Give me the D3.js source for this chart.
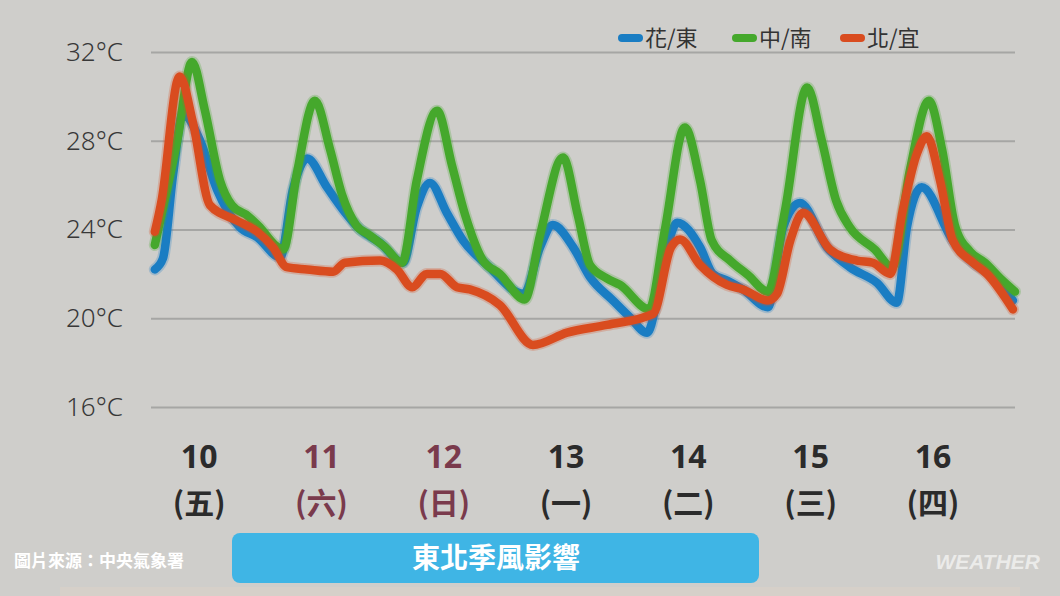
<!DOCTYPE html>
<html>
<head>
<meta charset="utf-8">
<script src="https://cdn.jsdelivr.net/npm/d3@7"></script>
<style>
  html, body { margin: 0; padding: 0; background: #cfcecb; }
  svg { display: block; font-family: "Noto Sans", "Noto Sans CJK TC", sans-serif; }
</style>
</head>
<body>
<div id="chart"></div>
<script>
// hours from day 10 00:00, temperature (°C)
var eastSeries = [[3.3,22.2],[4.9,22.7],[6.9,26.5],[8.8,29.2],[12.2,28.0],[15.5,25.8],[20.0,24.1],[23.4,23.65],[27.9,22.75],
  [30.4,25.8],[33.2,27.2],[37.1,25.9],[40.2,24.9],[43.6,24.0],[47.5,23.4],[52.0,22.5],
  [54.7,25.0],[57.3,26.1],[60.6,24.75],[63.8,23.5],[68.5,22.4],[75.7,21.1],
  [78.9,23.2],[81.4,24.2],[85.4,23.2],[88.7,21.85],[93.2,20.8],[96.5,20.05],[99.9,19.35],
  [103.8,23.2],[105.8,24.3],[110.3,23.2],[112.8,22.0],[115.6,21.7],[118.7,21.3],[123.6,20.5],
  [126.6,24.1],[129.9,25.2],[135.2,23.2],[139.7,22.3],[145.0,21.6],[148.9,20.7],
  [150.9,24.1],[153.8,25.9],[159.9,23.5],[163.9,22.5],[167.2,22.0],[171.7,20.8]];

var southSeries = [[3.3,23.3],[7.7,28.0],[10.6,31.55],[13.1,29.4],[16.1,26.2],[18.4,25.1],[21.6,24.6],[23.9,24.1],[26.9,23.3],[28.5,23.1],
  [31.2,26.55],[34.7,29.8],[37.7,27.6],[40.0,25.6],[42.8,24.2],[45.4,23.75],[48.5,23.2],[51.8,22.5],
  [54.7,26.2],[58.7,29.35],[61.6,26.9],[64.2,24.65],[67.7,22.6],[71.0,22.0],[75.9,20.85],
  [78.9,23.75],[83.4,27.25],[86.3,24.65],[88.7,22.4],[92.0,21.8],[94.6,21.5],[100.3,20.4],
  [103.4,24.0],[107.3,28.6],[110.3,26.2],[112.6,23.5],[116.2,22.6],[119.7,21.95],[123.6,21.2],
  [127.0,24.9],[131.3,30.4],[134.2,28.0],[137.0,25.3],[139.7,24.1],[144.6,23.1],[148.0,22.3],
  [151.5,26.7],[155.2,29.8],[157.8,27.6],[160.3,24.2],[163.3,23.0],[166.2,22.5],[169.2,21.8],[172.1,21.2]];

var northSeries = [[3.3,23.9],[4.7,25.4],[7.7,30.7],[8.2,30.9],[10.8,28.8],[14.1,25.1],[19.4,24.4],[23.4,23.9],[26.5,23.2],[29.2,22.3],
  [33.2,22.2],[38.3,22.1],[40.6,22.5],[47.5,22.6],[50.8,22.2],[53.8,21.4],[56.7,22.0],[59.3,22.0],[62.6,21.4],[65.1,21.3],
  [71.0,20.6],[77.5,18.8],[84.2,19.35],[92.0,19.7],[101.1,20.2],[104.6,23.2],[106.4,23.55],[110.3,22.4],[115.6,21.5],
  [118.7,21.3],[123.6,20.8],[125.4,21.1],[128.0,23.5],[130.5,24.75],[135.8,23.1],[141.1,22.6],[144.2,22.5],[147.6,22.0],
  [150.1,24.9],[152.9,27.45],[154.8,28.2],[157.4,26.2],[159.9,23.5],[163.9,22.5],[166.6,22.0],[171.7,20.4]];

var seriesNames = ["花/東", "中/南", "北/宜"];
var seriesColors = ["#1a7dc3", "#45a82c", "#d94c1f"];
var dayNumbers = ["10", "11", "12", "13", "14", "15", "16"];
var weekDays = ["(五)", "(六)", "(日)", "(一)", "(二)", "(三)", "(四)"];
var weekendDays = ["11", "12"];
var tempTicks = [16, 20, 24, 28, 32];

var width = 1060, height = 596;
var svg = d3.select("#chart").append("svg").attr("width", width).attr("height", height);

svg.append("rect").attr("width", width).attr("height", height).attr("fill", "#cfcecb");
svg.append("rect").attr("x", 60).attr("y", 587).attr("width", 960).attr("height", 9).attr("fill", "#d6d0c9");

var x = d3.scaleLinear().domain([0, 168]).range([138, 994.1]);
var y = d3.scaleLinear().domain([16, 32]).range([407, 52]);

// gridlines + y labels
var yAxis = svg.append("g")
  .attr("transform", "translate(151,0)")
  .call(d3.axisLeft(y).tickValues(tempTicks).tickFormat(function (d) { return d + "°C"; })
    .tickSize(-864).tickPadding(28));
yAxis.select(".domain").remove();
yAxis.selectAll(".tick line").attr("stroke", "#a6a6a4").attr("stroke-width", 2);
yAxis.selectAll(".tick text").attr("fill", "#383838").style("font-size", "26px")
  .style("font-weight", "300")
  .style("font-family", "'Noto Sans', sans-serif");

var line = d3.line()
  .x(function (d) { return x(d[0]); })
  .y(function (d) { return y(d[1]); })
  .curve(d3.curveMonotoneX);

var allSeries = [eastSeries, southSeries, northSeries];
allSeries.forEach(function (s, i) {
  svg.append("path").datum(s)
    .attr("d", line).attr("fill", "none")
    .attr("stroke", seriesColors[i]).attr("stroke-opacity", 0.25)
    .attr("stroke-width", 12).attr("stroke-linejoin", "round").attr("stroke-linecap", "round");
  svg.append("path").datum(s)
    .attr("d", line).attr("fill", "none")
    .attr("stroke", seriesColors[i])
    .attr("stroke-width", 8.5).attr("stroke-linejoin", "round").attr("stroke-linecap", "round");
});

// legend
var legendX = [618, 732, 840];
seriesNames.forEach(function (name, i) {
  svg.append("line")
    .attr("x1", legendX[i] + 4).attr("x2", legendX[i] + 21)
    .attr("y1", 38).attr("y2", 38)
    .attr("stroke", seriesColors[i]).attr("stroke-width", 8).attr("stroke-linecap", "round");
  svg.append("text")
    .attr("x", legendX[i] + 27).attr("y", 38).attr("dy", "0.36em")
    .attr("fill", "#333").style("font-size", "22px")
    .style("font-family", "'Noto Sans CJK TC', sans-serif")
    .text(name);
});

// day labels
dayNumbers.forEach(function (d, i) {
  var cx = x(i * 24 + 12);
  var col = weekendDays.indexOf(d) >= 0 ? "#7a3a4c" : "#2b2b2b";
  svg.append("text").attr("x", cx).attr("y", 456).attr("dy", "0.36em")
    .attr("text-anchor", "middle").attr("fill", col)
    .style("font-size", "32px").style("font-weight", "bold")
    .style("font-family", "'Noto Sans', sans-serif")
    .text(d);
  svg.append("text").attr("x", cx).attr("y", 503).attr("dy", "0.36em")
    .attr("text-anchor", "middle").attr("fill", col)
    .style("font-size", "30px").style("font-weight", "bold")
    .style("font-family", "'Noto Sans CJK TC', sans-serif")
    .text(weekDays[i]);
});

// banner
svg.append("rect").attr("x", 232).attr("y", 533).attr("width", 527).attr("height", 50)
  .attr("rx", 8).attr("fill", "#3fb5e5");
svg.append("text").attr("x", 496).attr("y", 558).attr("dy", "0.36em")
  .attr("text-anchor", "middle").attr("fill", "#fff")
  .style("font-size", "28px").style("font-weight", "bold")
  .style("font-family", "'Noto Sans CJK TC', sans-serif")
  .text("東北季風影響");

svg.append("text").attr("x", 14).attr("y", 561).attr("dy", "0.36em")
  .attr("fill", "#fff").style("font-size", "17px").style("font-weight", "bold")
  .style("font-family", "'Noto Sans CJK TC', sans-serif")
  .text("圖片來源：中央氣象署");

svg.append("text").attr("x", 1040).attr("y", 561).attr("dy", "0.36em")
  .attr("text-anchor", "end").attr("fill", "#fff").attr("fill-opacity", 0.6)
  .style("font-size", "21px").style("font-weight", "bold").style("font-style", "italic")
  .style("font-family", "'Liberation Sans', sans-serif")
  .text("WEATHER");
</script>
</body>
</html>
